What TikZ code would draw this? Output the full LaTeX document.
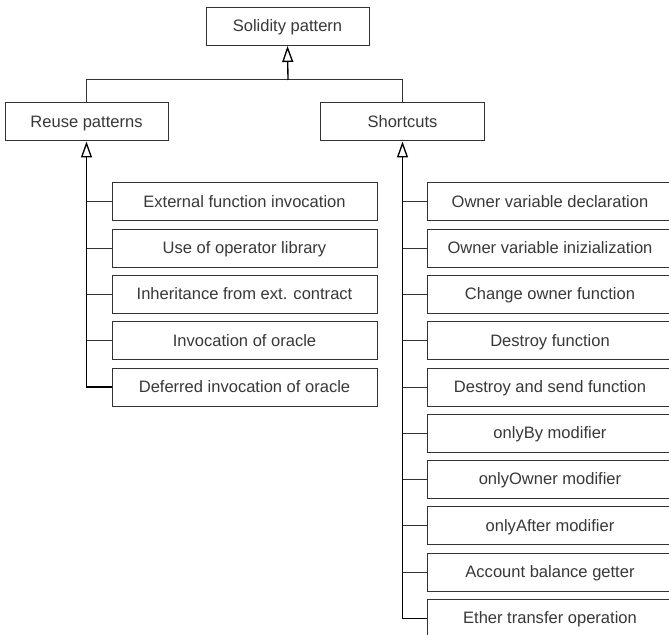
\documentclass[tikz,border=0pt]{standalone}
\usepackage{fontspec}
\setmainfont{Liberation Sans}
\usetikzlibrary{arrows.meta}
\definecolor{ink}{rgb}{0.2,0.2,0.2}
\definecolor{txt}{rgb}{0.22,0.22,0.22}
\tikzset{
  box/.style={draw=ink, line width=0.75pt, fill=white, text=txt, inner sep=0pt,
    text height=9.5pt, text depth=1.3pt,
    font=\fontsize{12.4pt}{15pt}\selectfont},
  topbox/.style={box, minimum width=163*0.75pt, minimum height=38*0.75pt},
  lbox/.style={box, minimum width=265*0.75pt, minimum height=38*0.75pt},
  rbox/.style={box, minimum width=246*0.75pt, minimum height=38*0.75pt},
  link/.style={draw=ink, line width=0.75pt},
  trunk/.style={draw=black, line width=1pt},
  inh/.style={-{Triangle[open, length=12pt, width=8.25pt, fill=white]}},
}
\begin{document}
\begin{tikzpicture}[x=0.75pt, y=-0.75pt]
\useasboundingbox (0,0) rectangle (669,635);
\clip (0,0) rectangle (669,635);
% top
\node[topbox] (sp) at (287.5,26.5) {Solidity pattern};
\node[topbox] (rp) at (86.5,122) {Reuse patterns};
\node[topbox, minimum width=164*0.75pt] (sc) at (402.5,122) {Shortcuts};
\coordinate (j) at (288,80);
\coordinate (jl) at (rp.north |- j);
\coordinate (jr) at (sc.north |- j);
\draw[link] (rp.north) -- (jl) -- (jr) -- (sc.north);
\draw[trunk, inh] (j) -- (sp.south);
% left children
\foreach \t [count=\i from 0] in {External function invocation, Use of operator library, Inheritance from ext. contract, Invocation of oracle, Deferred invocation of oracle}{
  \node[lbox] (l\i) at (244.5, 202+46.25*\i) {\t};
}
\foreach \i in {0,...,3}{
  \draw[link] (rp.south |- l\i.west) -- (l\i.west);
}
\draw[trunk, inh] (l4.west) -| (rp.south);
% right children
\foreach \t [count=\i from 0] in {Owner variable declaration, Owner variable inizialization, Change owner function, Destroy function, Destroy and send function, onlyBy modifier, onlyOwner modifier, onlyAfter modifier, Account balance getter, Ether transfer operation}{
  \node[rbox] (r\i) at (550, 202+46.25*\i) {\t};
}
\foreach \i in {0,...,8}{
  \draw[link] (sc.south |- r\i.west) -- (r\i.west);
}
\draw[trunk, inh] (r9.west) -| (sc.south);
\end{tikzpicture}
\end{document}
